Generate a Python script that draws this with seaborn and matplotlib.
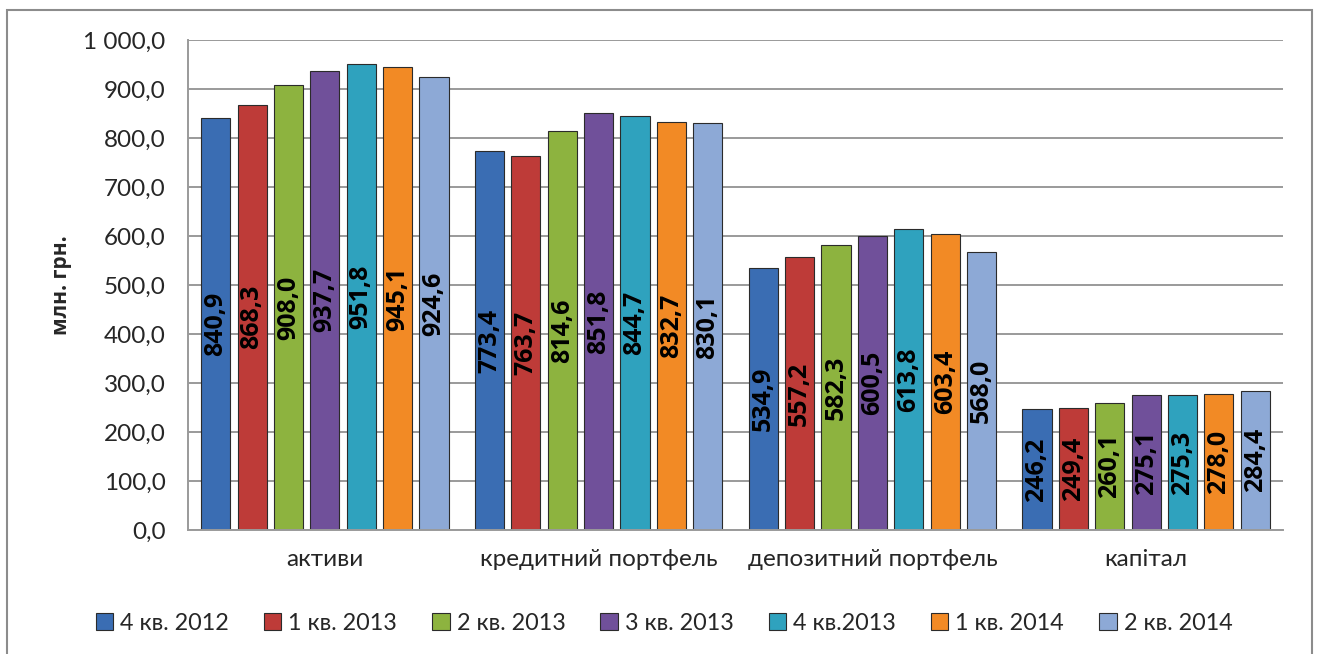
import seaborn as sns
import pandas as pd
import matplotlib.pyplot as plt
from matplotlib.patches import Rectangle
from matplotlib.ticker import FuncFormatter, MultipleLocator

categories = ["активи", "кредитний портфель", "депозитний портфель", "капітал"]
periods = ["4 кв. 2012", "1 кв. 2013", "2 кв. 2013", "3 кв. 2013",
           "4 кв.2013", "1 кв. 2014", "2 кв. 2014"]

# values per period, in category order
q4_2012 = [840.9, 773.4, 534.9, 246.2]
q1_2013 = [868.3, 763.7, 557.2, 249.4]
q2_2013 = [908.0, 814.6, 582.3, 260.1]
q3_2013 = [937.7, 851.8, 600.5, 275.1]
q4_2013 = [951.8, 844.7, 613.8, 275.3]
q1_2014 = [945.1, 832.7, 603.4, 278.0]
q2_2014 = [924.6, 830.1, 568.0, 284.4]

series = [q4_2012, q1_2013, q2_2013, q3_2013, q4_2013, q1_2014, q2_2014]
colors = ["#3A6DB3", "#BE3B38", "#8DB33F", "#70509A", "#2FA2BE", "#F28A25", "#8DA9D6"]

BOLD_FONT = ["Open Sans", "DejaVu Sans"]


def fmt_num(v, _=None):
    s = f"{v:,.1f}".replace(",", " ").replace(".", ",")
    return s


def main():
    rows = []
    for p, vals in zip(periods, series):
        for c, v in zip(categories, vals):
            rows.append({"category": c, "period": p, "value": v})
    df = pd.DataFrame(rows)

    sns.set_style("white")
    plt.rcParams["font.family"] = ["Lato", "DejaVu Sans"]

    fig = plt.figure(figsize=(13.2, 6.54), dpi=100)
    ax = fig.add_axes([0.1424, 0.1896, 0.8296, 0.7492])

    sns.barplot(data=df, x="category", y="value", hue="period",
                order=categories, hue_order=periods, palette=colors,
                width=0.93, gap=0.2, edgecolor="#2b2b2b", linewidth=0.8,
                saturation=1, ax=ax, legend=True)

    for cont, vals in zip(ax.containers, series):
        ax.bar_label(cont, labels=[fmt_num(v) for v in vals], label_type="center",
                     rotation=90, fontsize=18, fontweight="bold", color="black",
                     family=BOLD_FONT)

    ax.set_ylim(0, 1000)
    ax.yaxis.set_major_locator(MultipleLocator(100))
    ax.yaxis.set_major_formatter(FuncFormatter(fmt_num))
    ax.grid(axis="y", color="#9a9a9a", linewidth=1.4)
    ax.set_axisbelow(True)
    for s in ["top", "right"]:
        ax.spines[s].set_visible(False)
    for s in ["left", "bottom"]:
        ax.spines[s].set_color("#9a9a9a")
        ax.spines[s].set_linewidth(1.4)
    ax.tick_params(axis="y", labelsize=17.5, pad=16, length=0)
    ax.tick_params(axis="x", labelsize=17.5, pad=14, length=0)
    ax.set_xlabel("")
    ax.set_ylabel("млн. грн.", fontsize=15, fontweight="bold", labelpad=8,
                  family=BOLD_FONT)
    ax.set_xlim(-0.5, 3.5)

    ax.legend(loc="center", bbox_to_anchor=(0.503, 0.047),
              bbox_transform=fig.transFigure, ncol=7, frameon=False,
              fontsize=16.8, handlelength=0.75, handleheight=0.75,
              handletextpad=0.3, columnspacing=1.5)

    # outer chart frame
    fig.patches.append(Rectangle((0.0053, -0.05), 0.989, 1.035, transform=fig.transFigure,
                                 fill=False, edgecolor="#8c8c8c", linewidth=1.5))

    fig.savefig("out.png", dpi=100)
    plt.close(fig)


if __name__ == "__main__":
    main()
